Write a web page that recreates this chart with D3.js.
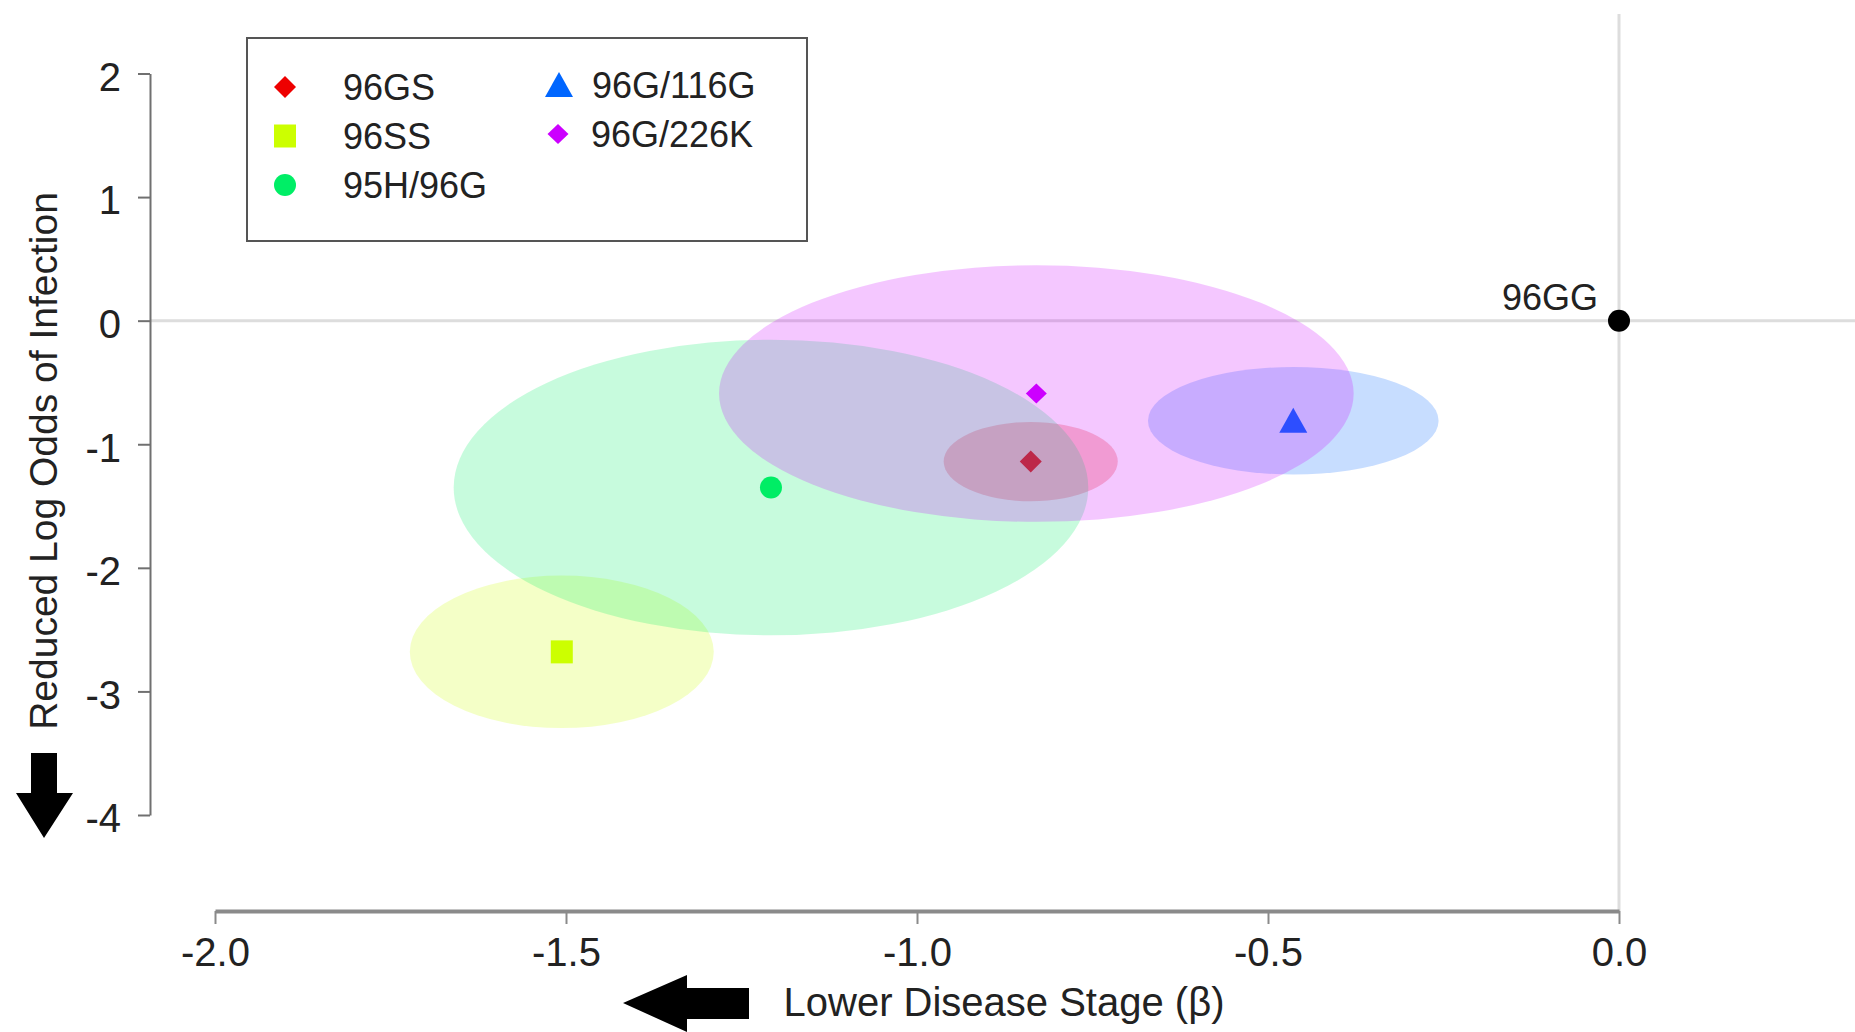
<!DOCTYPE html>
<html>
<head>
<meta charset="utf-8">
<script src="https://cdn.jsdelivr.net/npm/d3@7"></script>
<style>
  html, body { margin: 0; padding: 0; background: #fff; }
  svg { display: block; }
  text { font-family: "Liberation Sans", Arial, Helvetica, sans-serif; fill: #222; }
</style>
</head>
<body>
<svg id="chart" width="1855" height="1032"></svg>
<script>
// ---- data ----
const genotypes = ["96GS", "96SS", "95H/96G", "96G/116G", "96G/226K"];
const betaValues = [-0.838, -1.506, -1.208, -0.464, -0.830];   // Lower disease stage (x)
const logOddsValues = [-1.14, -2.68, -1.35, -0.81, -0.59];      // Reduced log odds of infection (y)
const betaSpread = [0.124, 0.2165, 0.452, 0.207, 0.452];        // ellipse semi-axis in x units
const logOddsSpread = [0.321, 0.617, 1.196, 0.435, 1.038];      // ellipse semi-axis in y units
const colors = ["#ee0000", "#ccff00", "#00ee66", "#0066ff", "#cc00ff"];
const shapes = ["diamond", "square", "circle", "triangle", "diamondSmall"];
const reference = { label: "96GG", beta: 0, logOdds: 0 };
const xTicks = [-2.0, -1.5, -1.0, -0.5, 0.0];
const yTicks = [2, 1, 0, -1, -2, -3, -4];
const xTitle = "Lower Disease Stage (\u03B2)";
const yTitle = "Reduced Log Odds of Infection";

// ---- layout ----
const svg = d3.select("#chart");
const x = d3.scaleLinear().domain([-2, 0]).range([215, 1619]);
const y = d3.scaleLinear().domain([-4, 2]).range([815, 73.5]);
const xAxisY = 911;
const yAxisX = 150;

function shapePath(kind) {
  switch (kind) {
    case "diamond": return "M0,-11L11,0L0,11L-11,0Z";
    case "diamondSmall": return "M0,-10L10.5,0L0,10L-10.5,0Z";
    case "square": return "M-11,-11.5H11V11.5H-11Z";
    case "triangle": return "M0,-13L14,12L-14,12Z";
    case "circle": return d3.symbol(d3.symbolCircle, Math.PI * 11 * 11)();
  }
}
const hyphenFmt = f => v => f(v).replace("\u2212", "-");

// reference lines
svg.append("line")
  .attr("x1", x(0)).attr("x2", x(0))
  .attr("y1", 14).attr("y2", xAxisY)
  .attr("stroke", "#dddddd").attr("stroke-width", 3);
svg.append("line")
  .attr("x1", yAxisX).attr("x2", 1855)
  .attr("y1", y(0)).attr("y2", y(0))
  .attr("stroke", "#dddddd").attr("stroke-width", 3);

const data = genotypes.map((g, i) => ({
  g, bx: betaValues[i], ly: logOddsValues[i], sx: betaSpread[i], sy: logOddsSpread[i],
  color: colors[i], shape: shapes[i]
}));

// markers (drawn beneath translucent ellipses)
svg.append("g").selectAll("path.pt").data(data).join("path")
  .attr("class", "pt")
  .attr("d", d => shapePath(d.shape))
  .attr("transform", d => `translate(${x(d.bx)},${y(d.ly)})`)
  .attr("fill", d => d.color);

// ellipses
svg.append("g").selectAll("ellipse").data(data).join("ellipse")
  .attr("cx", d => x(d.bx))
  .attr("cy", d => y(d.ly))
  .attr("rx", d => x(d.bx + d.sx) - x(d.bx))
  .attr("ry", d => y(d.ly - d.sy) - y(d.ly))
  .attr("fill", d => d.color)
  .attr("fill-opacity", 0.22);

// reference point
svg.append("circle")
  .attr("cx", x(reference.beta)).attr("cy", y(reference.logOdds))
  .attr("r", 11).attr("fill", "#000");
svg.append("text")
  .attr("x", x(reference.beta) - 21).attr("y", y(reference.logOdds) - 11)
  .attr("text-anchor", "end").attr("font-size", 36)
  .text(reference.label);

// axes
const xAxis = d3.axisBottom(x).tickValues(xTicks).tickFormat(hyphenFmt(d3.format(".1f")))
  .tickSize(13).tickSizeOuter(0).tickPadding(14);
const gx = svg.append("g").attr("transform", `translate(0,${xAxisY})`).call(xAxis);
gx.select(".domain").attr("stroke", "#8a8a8a").attr("stroke-width", 4);
gx.selectAll(".tick line").attr("stroke", "#8a8a8a").attr("stroke-width", 2);
gx.selectAll(".tick text").attr("font-size", 40).attr("fill", "#222")
  .attr("font-family", "Liberation Sans, Arial, sans-serif");

const yAxis = d3.axisLeft(y).tickValues(yTicks).tickFormat(hyphenFmt(d3.format("d")))
  .tickSize(12).tickSizeOuter(0).tickPadding(17);
const gy = svg.append("g").attr("transform", `translate(${yAxisX},0)`).call(yAxis);
gy.select(".domain").attr("stroke", "#707070").attr("stroke-width", 2);
gy.selectAll(".tick line").attr("stroke", "#707070").attr("stroke-width", 2);
gy.selectAll(".tick text").attr("font-size", 40).attr("fill", "#222").attr("dy", "0.42em")
  .attr("font-family", "Liberation Sans, Arial, sans-serif");

// axis titles
svg.append("text")
  .attr("transform", "translate(57,461) rotate(-90)")
  .attr("text-anchor", "middle").attr("font-size", 39)
  .text(yTitle);
svg.append("text")
  .attr("x", 1004).attr("y", 1016)
  .attr("text-anchor", "middle").attr("font-size", 40)
  .text(xTitle);

// arrows
svg.append("path")
  .attr("d", "M31,753H57V793H73L44,838L16,793H31Z")
  .attr("fill", "#000");
svg.append("path")
  .attr("d", "M749,988V1019H687V1032L623,1003L687,975V988Z")
  .attr("fill", "#000");

// legend
const legend = svg.append("g");
legend.append("rect")
  .attr("x", 247).attr("y", 38).attr("width", 560).attr("height", 203)
  .attr("fill", "#fff").attr("stroke", "#555").attr("stroke-width", 2);
const legendPos = [
  [285, 87], [285, 136], [285, 185], [559, 85], [558, 134]
];
const legItems = legend.selectAll("g.item").data(data).join("g")
  .attr("class", "item")
  .attr("transform", (d, i) => `translate(${legendPos[i][0]},${legendPos[i][1]})`);
legItems.append("path")
  .attr("d", d => shapePath(d.shape))
  .attr("fill", d => d.color);
legItems.append("text")
  .attr("x", (d, i) => i < 3 ? 58 : 33)
  .attr("y", 13)
  .attr("font-size", 36)
  .text(d => d.g);
</script>
</body>
</html>
